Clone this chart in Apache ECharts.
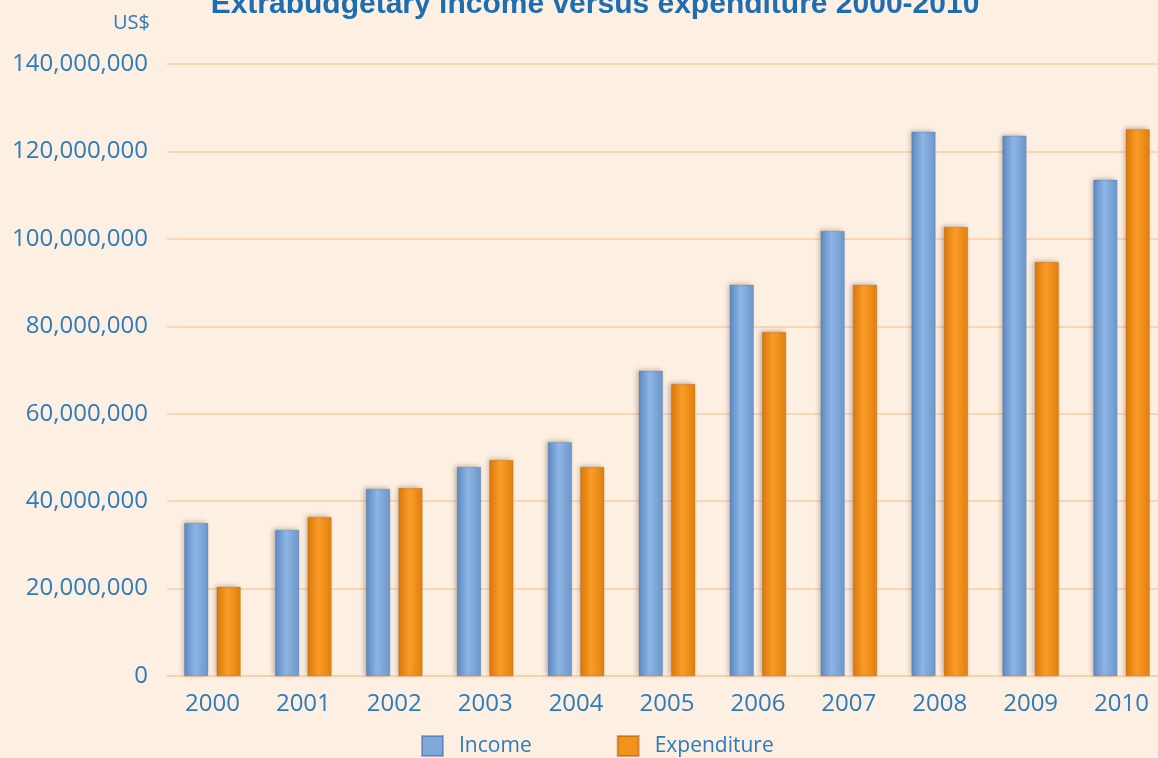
<!DOCTYPE html>
<html>
<head>
<meta charset="utf-8">
<script src="https://cdn.jsdelivr.net/npm/echarts@6/dist/echarts.min.js"></script>
<style>
  html, body { margin: 0; padding: 0; background: #fdf0e2; }
  #chart { width: 1158px; height: 758px; }
</style>
</head>
<body>
<div id="chart"></div>
<script>
// Extrabudgetary income and expenditure, US$
const years = ['2000', '2001', '2002', '2003', '2004', '2005', '2006', '2007', '2008', '2009', '2010'];
const income = [35000000, 33400000, 42800000, 47800000, 53500000, 69800000, 89500000, 101800000, 124500000, 123600000, 113500000];
const expenditure = [20400000, 36400000, 43000000, 49400000, 47800000, 66800000, 78700000, 89500000, 102700000, 94700000, 125100000];
const yTicks = { min: 0, max: 140000000, interval: 20000000 };

const blue = '#2c7bbd';
const labelFont = '"Open Sans", "DejaVu Sans", sans-serif';

function barGradient(edge, mid, edge2) {
  return new echarts.graphic.LinearGradient(0, 0, 1, 0, [
    { offset: 0, color: edge },
    { offset: 0.45, color: mid },
    { offset: 1, color: edge2 }
  ]);
}

const chart = echarts.init(document.getElementById('chart'), null, { renderer: 'canvas' });
chart.setOption({
  backgroundColor: '#fdf0e2',
  animation: false,
  graphic: [
    {
      type: 'text', x: 595, y: -10,
      style: {
        text: 'Extrabudgetary income versus expenditure 2000-2010',
        font: 'bold 30px "Liberation Sans", sans-serif',
        fill: '#1d6db3',
        align: 'center', verticalAlign: 'top'
      }
    },
    {
      type: 'text', right: 1008, top: 13,
      style: { text: 'US$', font: '20px ' + labelFont, fill: blue }
    }
  ],
  legend: {
    left: 421, top: 735, padding: 0,
    itemWidth: 21, itemHeight: 20, itemGap: 85,
    icon: 'rect',
    textStyle: { color: blue, fontSize: 21, fontFamily: labelFont, padding: [0, 0, 0, 11] },
    data: [
      { name: 'Income', itemStyle: { color: '#7ea7da' } },
      { name: 'Expenditure', itemStyle: { color: '#f4911a' } }
    ]
  },
  grid: { left: 167, width: 1000, top: 64, bottom: 82, containLabel: false, outerBoundsMode: 'none' },
  xAxis: {
    type: 'category',
    data: years,
    axisLine: { show: true, lineStyle: { color: '#f6cfa6', width: 1.5 } },
    axisTick: { show: false },
    axisLabel: { color: blue, fontSize: 24, fontFamily: labelFont, margin: 16 }
  },
  yAxis: {
    type: 'value',
    min: yTicks.min, max: yTicks.max, interval: yTicks.interval,
    axisLine: { show: false },
    axisTick: { show: false },
    splitLine: { lineStyle: { color: '#f6cfa6', width: 1.5 } },
    axisLabel: {
      color: blue, fontSize: 24, fontFamily: labelFont, margin: 19,
      formatter: v => v === 0 ? '0' : v.toLocaleString('en-US')
    }
  },
  series: [
    {
      name: 'Income', type: 'bar', data: income,
      barWidth: 24, barGap: '35%',
      itemStyle: {
        color: barGradient('#5d88c0', '#8db5e4', '#6e98cc'),
        borderColor: 'rgba(60,90,140,0.45)', borderWidth: 0.5,
        shadowColor: 'rgba(80,60,40,0.32)', shadowBlur: 5, shadowOffsetX: -2, shadowOffsetY: -1
      }
    },
    {
      name: 'Expenditure', type: 'bar', data: expenditure,
      barWidth: 24,
      itemStyle: {
        color: barGradient('#db7708', '#fa9c28', '#e3820d'),
        borderColor: 'rgba(150,80,10,0.45)', borderWidth: 0.5,
        shadowColor: 'rgba(80,60,40,0.32)', shadowBlur: 5, shadowOffsetX: -2, shadowOffsetY: -1
      }
    }
  ]
});
</script>
</body>
</html>
